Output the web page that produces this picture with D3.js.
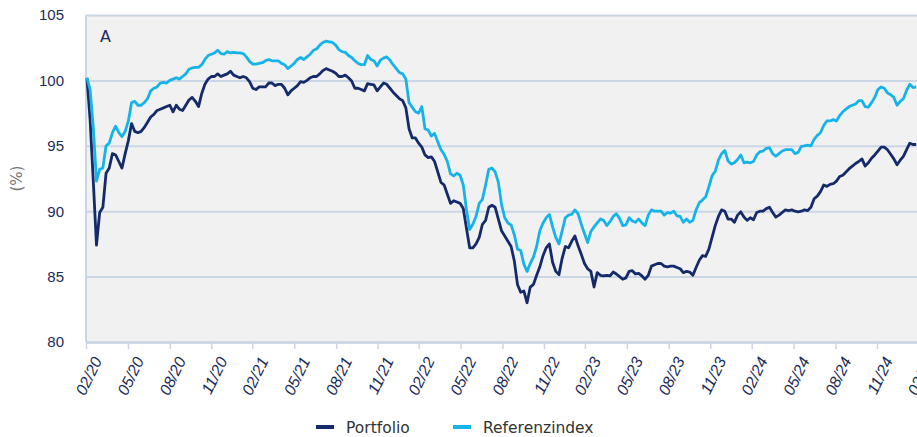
<!DOCTYPE html>
<html>
<head>
<meta charset="utf-8">
<script src="https://cdn.jsdelivr.net/npm/d3@7"></script>
<style>
  body { margin: 0; background: #fff; }
  svg { display: block; }
</style>
</head>
<body>
<div id="chart"></div>
<script>
// Weekly closes, indexed to 100, starting on the first Monday of 03/2020
const startDate = new Date(2020, 2, 2);

const portfolio = [
  100.2, 97.0, 92.3, 87.4, 89.9, 90.3, 92.9, 93.3, 94.4, 94.3,
  93.8, 93.3, 94.4, 95.4, 96.7, 96.1, 96.0, 96.1, 96.4, 96.8,
  97.2, 97.4, 97.7, 97.8, 97.9, 98.0, 98.1, 97.6, 98.1, 97.8,
  97.7, 98.1, 98.5, 98.7, 98.4, 98.0, 99.0, 99.7, 100.1, 100.3,
  100.3, 100.5, 100.3, 100.4, 100.5, 100.7, 100.4, 100.3, 100.2, 100.3,
  100.2, 99.9, 99.4, 99.3, 99.5, 99.5, 99.5, 99.8, 99.8, 99.6,
  99.7, 99.7, 99.4, 98.9, 99.2, 99.4, 99.6, 99.9, 99.85, 100.0,
  100.2, 100.3, 100.3, 100.5, 100.75, 100.9, 100.8, 100.7, 100.55, 100.3,
  100.3, 100.4, 100.2, 99.95, 99.4, 99.4, 99.3, 99.2, 99.75, 99.7,
  99.65, 99.2, 99.5, 99.8, 99.7, 99.4, 99.1, 98.85, 98.6, 98.45,
  97.9, 96.3, 95.6, 95.6, 95.2, 94.9, 94.3, 94.1, 94.15, 93.8,
  93.0, 92.2, 92.0, 91.3, 90.6, 90.8, 90.7, 90.6, 90.2, 88.7,
  87.2, 87.2, 87.5, 88.0, 89.0, 89.3, 90.3, 90.45, 90.3, 89.4,
  88.5, 88.1, 87.7, 87.3, 86.2, 84.4, 83.8, 83.9, 83.0, 84.2,
  84.4, 85.1, 85.75, 86.6, 87.2, 87.5, 86.1, 85.4, 85.15, 86.4,
  87.3, 87.2, 87.7, 88.1, 87.35, 86.7, 86.0, 85.6, 85.4, 84.2,
  85.3, 85.1, 85.05, 85.1, 85.05, 85.35, 85.2, 85.0, 84.8, 84.9,
  85.4, 85.45, 85.2, 85.25, 85.05, 84.8, 85.1, 85.8, 85.9, 86.0,
  86.0, 85.8, 85.75, 85.8, 85.8, 85.7, 85.6, 85.3, 85.4, 85.35,
  85.1, 85.7, 86.25, 86.6, 86.55, 87.1, 88.0, 88.9, 89.6, 90.1,
  90.0, 89.4, 89.4, 89.15, 89.7, 89.95, 89.55, 89.3, 89.5, 89.35,
  89.9, 90.0, 90.0, 90.2, 90.3, 89.9, 89.55, 89.7, 89.9, 90.1,
  90.05, 90.1, 90.0, 89.95, 90.0, 90.1, 90.05, 90.3, 90.95, 91.15,
  91.5, 92.0, 91.9, 92.05, 92.1, 92.3, 92.65, 92.75, 93.0, 93.25,
  93.45, 93.65, 93.8, 94.0, 93.45, 93.7, 94.05, 94.3, 94.6, 94.9,
  94.9, 94.7, 94.35, 94.0, 93.55, 93.9, 94.2, 94.7, 95.2, 95.1,
  95.1
];

const referenz = [
  100.2, 99.3, 96.4, 92.3, 93.2, 93.3, 95.0, 95.2, 96.0, 96.5,
  96.0, 95.7, 96.1, 96.9, 98.3, 98.4, 98.1, 98.1, 98.3, 98.6,
  99.2, 99.4, 99.5, 99.8, 99.85, 99.8, 100.0, 100.1, 100.2, 100.1,
  100.3, 100.5, 100.85, 100.95, 101.0, 101.0, 101.2, 101.6, 101.9, 102.0,
  102.1, 102.3, 102.05, 102.0, 102.2, 102.1, 102.15, 102.1, 102.1, 102.05,
  101.8, 101.45, 101.25, 101.25, 101.3, 101.35, 101.5, 101.6, 101.5, 101.5,
  101.5, 101.3, 101.2, 100.9, 101.1, 101.3, 101.6, 101.75, 101.6, 101.8,
  102.0, 102.3, 102.4, 102.7, 102.9, 103.0, 102.95, 102.9, 102.7, 102.35,
  102.2, 102.15, 101.9, 101.75, 101.5, 101.3, 101.2, 101.2, 101.9, 101.6,
  101.5, 101.1, 101.55, 101.7, 101.8, 101.55, 101.2, 100.9, 100.6, 100.5,
  100.1, 98.3, 97.95, 97.6, 97.5, 98.0, 96.3, 96.2, 95.75, 95.95,
  95.3, 94.7, 94.35, 93.8, 92.85, 92.7, 92.9, 92.75, 92.0, 90.1,
  88.6, 89.0, 89.6, 90.6, 90.9, 92.0, 93.2, 93.3, 93.0, 92.2,
  90.5, 89.5, 89.1, 88.95, 88.2, 87.1, 87.0, 85.95, 85.4, 86.0,
  86.5, 87.3, 88.5, 89.1, 89.5, 89.75, 88.8, 88.0, 87.5, 88.5,
  89.5, 89.7, 89.75, 90.1, 89.8, 89.0, 88.3, 87.6, 88.45, 88.8,
  89.1, 89.4, 89.3, 88.9, 89.2, 89.6, 89.8, 89.45, 88.9, 88.95,
  89.5, 89.25, 89.15, 89.4, 89.1, 88.9, 89.7, 90.1, 90.0, 90.0,
  90.0, 89.7, 89.9, 89.85, 90.0, 89.65, 89.6, 89.15, 89.4, 89.15,
  89.3, 90.1, 90.65, 90.85, 91.1, 91.85, 92.7, 93.05, 93.9, 94.4,
  94.65, 93.85, 93.6, 93.7, 93.95, 94.3, 93.7, 93.75, 93.7, 93.8,
  94.3, 94.55, 94.6, 94.8, 94.85, 94.4, 94.2, 94.4, 94.6, 94.7,
  94.7, 94.7, 94.4, 94.5, 94.95, 95.0, 95.05, 95.0, 95.5, 95.8,
  96.0, 96.55, 96.9, 96.9, 97.0, 96.9, 97.3, 97.6, 97.8, 98.0,
  98.1, 98.2, 98.45, 98.45, 98.0, 97.95, 98.3, 98.7, 99.3, 99.5,
  99.4, 99.05, 98.9, 98.7, 98.1, 98.4, 98.6, 99.25, 99.7, 99.45,
  99.5
];

const tickLabels = ["02/20", "05/20", "08/20", "11/20", "02/21", "05/21", "08/21",
  "11/21", "02/22", "05/22", "08/22", "11/22", "02/23", "05/23", "08/23",
  "11/23", "02/24", "05/24", "08/24", "11/24", "02/25"];
const yTicks = [80, 85, 90, 95, 100, 105];
const seriesNames = ["Portfolio", "Referenzindex"];

const width = 917, height = 437;
const mLeft = 86, mRight = 918, mTop = 15, mBottom = 342;
const navy = "#152a69", cyan = "#16b3e9", grid = "#cbd6e4", textCol = "#1d2b58";

// month-end dates for the tick labels
const parseMonth = d3.timeParse("%m/%y");
const tickDates = tickLabels.map(l => d3.timeDay.offset(d3.timeMonth.offset(parseMonth(l), 1), -1));

let x = d3.scaleTime()
  .domain([tickDates[0], tickDates[tickDates.length - 1]])
  .range([mLeft, mRight]);

let y = d3.scaleLinear().domain([80, 105]).range([mBottom, mTop]);

let rows = portfolio.map((v, i) => ({
  date: d3.timeWeek.offset(startDate, i),
  p: v,
  r: referenz[i]
}));

let svg = d3.select("#chart").append("svg")
  .attr("width", width)
  .attr("height", height)
  .style("font-family", "'DejaVu Sans', Verdana, sans-serif");

// plot background
svg.append("rect")
  .attr("x", mLeft)
  .attr("y", mTop)
  .attr("width", mRight - mLeft)
  .attr("height", mBottom - mTop)
  .attr("fill", "#f1f1f1");

// horizontal grid + y labels
let yAxis = d3.axisLeft(y).tickValues(yTicks).tickSize(-(mRight - mLeft)).tickPadding(22);
let gy = svg.append("g")
  .attr("transform", "translate(" + mLeft + ",0)")
  .call(yAxis);
gy.select(".domain").remove();
gy.selectAll(".tick line").attr("stroke", grid).attr("stroke-width", 2);
gy.selectAll(".tick text")
  .attr("fill", textCol)
  .attr("font-size", "15px");

// left edge
svg.append("line")
  .attr("x1", mLeft).attr("x2", mLeft)
  .attr("y1", mTop).attr("y2", mBottom)
  .attr("stroke", grid).attr("stroke-width", 2);

// x axis
let xAxis = d3.axisBottom(x)
  .tickValues(tickDates)
  .tickFormat((d, i) => tickLabels[i])
  .tickSize(7)
  .tickSizeOuter(0);
let gx = svg.append("g")
  .attr("transform", "translate(0," + mBottom + ")")
  .call(xAxis);
gx.select(".domain").attr("stroke", grid).attr("stroke-width", 2.5);
gx.selectAll(".tick line").attr("stroke", grid).attr("stroke-width", 1.5);
gx.selectAll(".tick text")
  .attr("fill", textCol)
  .attr("font-size", "16px")
  .attr("font-style", "italic")
  .attr("text-anchor", "end")
  .attr("dx", "0")
  .attr("dy", "0")
  .attr("transform", "translate(7,14) rotate(-64)");

// lines
let line = key => d3.line()
  .x(d => x(d.date))
  .y(d => y(d[key]));

svg.append("path")
  .datum(rows)
  .attr("fill", "none")
  .attr("stroke", navy)
  .attr("stroke-width", 2.8)
  .attr("stroke-linejoin", "round")
  .attr("d", line("p"));

svg.append("path")
  .datum(rows)
  .attr("fill", "none")
  .attr("stroke", cyan)
  .attr("stroke-width", 2.8)
  .attr("stroke-linejoin", "round")
  .attr("d", line("r"));

// panel letter
svg.append("text")
  .attr("x", 100)
  .attr("y", 42)
  .attr("fill", textCol)
  .attr("font-size", "16px")
  .text("A");

// y label
svg.append("text")
  .attr("transform", "translate(22," + ((mTop + mBottom) / 2) + ") rotate(-90)")
  .attr("text-anchor", "middle")
  .attr("fill", "#777")
  .attr("font-size", "15px")
  .text("(%)");

// legend
let legend = svg.append("g").attr("transform", "translate(0,427)");
let legX = [316, 453];
[navy, cyan].forEach((c, i) => {
  legend.append("line")
    .attr("x1", legX[i]).attr("x2", legX[i] + 18)
    .attr("y1", 0).attr("y2", 0)
    .attr("stroke", c).attr("stroke-width", 4);
  legend.append("text")
    .attr("x", legX[i] + 30)
    .attr("y", 6)
    .attr("fill", "#333")
    .attr("font-size", "15.5px")
    .text(seriesNames[i]);
});
</script>
</body>
</html>
